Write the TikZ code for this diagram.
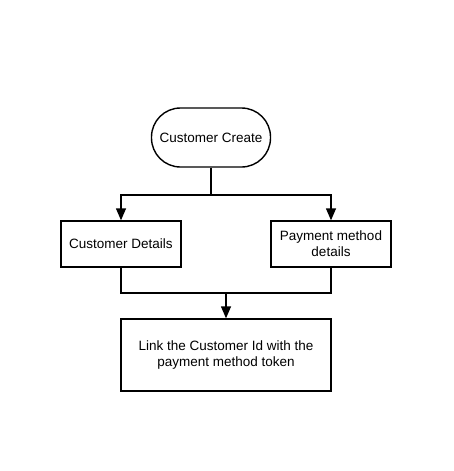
\documentclass[tikz,border=0pt]{standalone}
\usepackage{fontspec}
\setmainfont{Liberation Sans}
\usetikzlibrary{arrows.meta}

\begin{document}
\begin{tikzpicture}[
    x=1pt, y=-1pt,
    every node/.style={draw, line width=1.4pt, align=center, inner sep=0pt, font=\fontsize{13.5}{16}\selectfont},
    startnode/.style={rectangle, rounded corners=29pt, minimum width=119pt, minimum height=59pt},
    box/.style={rectangle, minimum width=120pt, minimum height=46pt},
    arrow/.style={-{Triangle[length=12pt, width=10pt]}, line width=1.4pt}
    ]
    \useasboundingbox (0,0) rectangle (454,471);

    \node (create) [startnode] at (211,137.5) {Customer Create};

    \node (custdet) [box] at (121,244) {Customer Details};

    \node (paydet) [box] at (331,244) {Payment method \\ details};

    \node (link) [box, minimum width=210pt, minimum height=72pt] at (226,355) {Link the Customer Id with the \\ payment method token};

    \coordinate (split) at (211,195);
    \coordinate (merge) at (226,293);

    \draw[line width=1.4pt] (create.south) -- (split);
    \draw[arrow] (split) -| (custdet.north);
    \draw[arrow] (split) -| (paydet.north);
    \draw[line width=1.4pt] (custdet.south) |- (merge);
    \draw[line width=1.4pt] (paydet.south) |- (merge);
    \draw[arrow] (merge) -- (link.north);

\end{tikzpicture}
\end{document}
